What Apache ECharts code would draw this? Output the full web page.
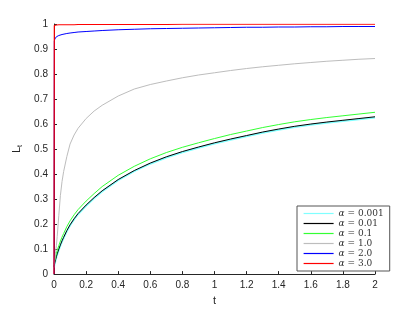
<!DOCTYPE html>
<html><head><meta charset="utf-8">
<script src="https://cdn.jsdelivr.net/npm/echarts@6/dist/echarts.min.js"></script>
<style>html,body{margin:0;padding:0;background:#fff}#c{width:415px;height:311px}</style>
</head><body><div id="c"></div>
<script>
var tValues   = [0, 0.002, 0.005, 0.01, 0.015, 0.02, 0.03, 0.04, 0.05, 0.06, 0.08, 0.1, 0.125, 0.15, 0.2, 0.25, 0.3, 0.4, 0.5, 0.6, 0.7, 0.8, 0.9, 1.0, 1.1, 1.2, 1.3, 1.4, 1.5, 1.6, 1.7, 1.8, 1.9, 2.0];
var alpha0001 = [0.027, 0.034, 0.042, 0.055, 0.067, 0.078, 0.097, 0.114, 0.130, 0.144, 0.171, 0.194, 0.218, 0.239, 0.273, 0.303, 0.330, 0.375, 0.411, 0.441, 0.466, 0.487, 0.505, 0.522, 0.537, 0.551, 0.565, 0.577, 0.588, 0.597, 0.605, 0.612, 0.619, 0.626];
var alpha001  = [0.030, 0.037, 0.045, 0.058, 0.070, 0.081, 0.100, 0.117, 0.133, 0.147, 0.174, 0.197, 0.221, 0.242, 0.276, 0.306, 0.333, 0.378, 0.414, 0.444, 0.469, 0.490, 0.508, 0.525, 0.540, 0.554, 0.568, 0.580, 0.591, 0.600, 0.608, 0.615, 0.622, 0.629];
var alpha01   = [0.040, 0.048, 0.057, 0.071, 0.083, 0.094, 0.114, 0.132, 0.148, 0.162, 0.190, 0.213, 0.237, 0.258, 0.292, 0.322, 0.350, 0.395, 0.431, 0.461, 0.486, 0.507, 0.525, 0.542, 0.558, 0.572, 0.586, 0.598, 0.609, 0.618, 0.626, 0.633, 0.640, 0.647];
var alpha10   = [0.030, 0.040, 0.060, 0.090, 0.115, 0.150, 0.235, 0.315, 0.370, 0.410, 0.470, 0.520, 0.556, 0.583, 0.622, 0.652, 0.675, 0.712, 0.740, 0.758, 0.772, 0.785, 0.796, 0.805, 0.814, 0.822, 0.829, 0.835, 0.841, 0.846, 0.851, 0.855, 0.859, 0.862];
var alpha20   = [0, 0.932, 0.940, 0.946, 0.949, 0.951, 0.954, 0.956, 0.958, 0.960, 0.962, 0.964, 0.966, 0.968, 0.970, 0.972, 0.974, 0.977, 0.979, 0.981, 0.982, 0.983, 0.984, 0.985, 0.986, 0.987, 0.987, 0.988, 0.988, 0.989, 0.989, 0.990, 0.990, 0.990];
var alpha30   = [0, 0.994, 0.995, 0.996, 0.996, 0.996, 0.997, 0.997, 0.997, 0.997, 0.997, 0.997, 0.997, 0.998, 0.998, 0.998, 0.998, 0.998, 0.998, 0.998, 0.998, 0.999, 0.999, 0.999, 0.999, 0.999, 0.999, 0.999, 0.999, 0.999, 0.999, 0.999, 0.999, 0.999];
var seriesNames  = ['α = 0.001', 'α = 0.01', 'α = 0.1', 'α = 1.0', 'α = 2.0', 'α = 3.0'];
var seriesValues = [alpha0001, alpha001, alpha01, alpha10, alpha20, alpha30];
var seriesColors = ['#80ffff', '#000000', '#33ff33', '#bdbdbd', '#0000ff', '#ff0000'];
var seriesWidths = [1.8, 1, 1, 1, 1, 1.2];
var xTicks = [0, 0.2, 0.4, 0.6, 0.8, 1, 1.2, 1.4, 1.6, 1.8, 2];
var yTicks = [0, 0.1, 0.2, 0.3, 0.4, 0.5, 0.6, 0.7, 0.8, 0.9, 1];

var chart = echarts.init(document.getElementById('c'), null, {renderer: 'canvas'});
var axisColor = '#262626';
var series = seriesNames.map(function (n, i) {
  return {
    name: n, type: 'line', showSymbol: false, symbol: 'none',
    smooth: false,
    data: tValues.map(function (t, j) { return [t, seriesValues[i][j]]; }),
    lineStyle: {color: seriesColors[i], width: seriesWidths[i]},
    itemStyle: {color: seriesColors[i]},
    z: 2 + i, animation: false
  };
});
chart.setOption({
  animation: false,
  backgroundColor: '#fff',
  grid: {left: 54, right: 40, top: 24, bottom: 34},
  legend: {
    orient: 'vertical', left: 297, top: 206,
    itemWidth: 30, itemHeight: 10, itemGap: 1,
    padding: [3, 6, 3, 6],
    backgroundColor: '#fff', borderColor: '#555', borderWidth: 1,
    data: seriesNames,
    itemStyle: {opacity: 0, borderWidth: 0},
    lineStyle: {width: 1.2},
    formatter: function (n) { return '{a|α}{b|' + n.slice(1) + '}'; },
    textStyle: {
      fontFamily: 'DejaVu Serif', fontSize: 9, color: '#333',
      rich: {
        a: {fontFamily: 'DejaVu Serif', fontStyle: 'italic', fontSize: 9, color: '#333'},
        b: {fontFamily: 'DejaVu Serif', fontSize: 9, color: '#333'}
      }
    }
  },
  xAxis: {
    type: 'value', min: xTicks[0], max: xTicks[xTicks.length - 1], interval: 0.2,
    name: 't', nameLocation: 'middle', nameGap: 20,
    nameTextStyle: {fontFamily: 'Liberation Sans', fontSize: 11, color: axisColor},
    axisLine: {show: true, lineStyle: {color: axisColor, width: 1}},
    axisTick: {show: true, inside: true, length: 3, lineStyle: {color: axisColor}},
    axisLabel: {margin: 6, fontFamily: 'Liberation Sans', fontSize: 10, color: axisColor},
    splitLine: {show: false}
  },
  yAxis: {
    type: 'value', min: yTicks[0], max: yTicks[yTicks.length - 1], interval: 0.1,
    name: '{a|L}{b|t}', nameLocation: 'middle', nameGap: 30,
    nameTextStyle: {
      fontFamily: 'Liberation Sans', fontSize: 11, color: axisColor,
      rich: {
        a: {fontFamily: 'Liberation Sans', fontSize: 11, color: axisColor},
        b: {fontFamily: 'Liberation Sans', fontSize: 7, color: axisColor, verticalAlign: 'bottom', padding: [6, 0, 0, 0]}
      }
    },
    axisLine: {show: true, lineStyle: {color: axisColor, width: 1}},
    axisTick: {show: true, inside: true, length: 3, lineStyle: {color: axisColor}},
    axisLabel: {margin: 6, fontFamily: 'Liberation Sans', fontSize: 10, color: axisColor},
    splitLine: {show: false}
  },
  series: series
});
</script></body></html>
